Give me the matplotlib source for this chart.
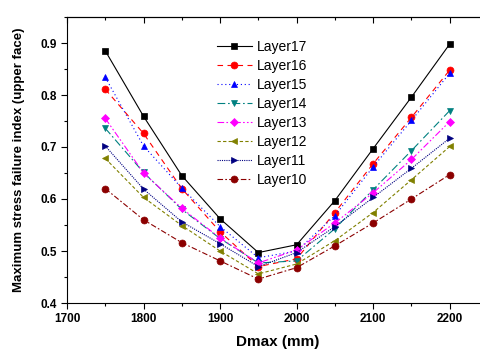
import matplotlib
matplotlib.use("Agg")
import matplotlib.pyplot as plt
from matplotlib.ticker import MultipleLocator

plt.rcParams['font.family'] = ['Liberation Sans', 'DejaVu Sans']

dmax = [1750, 1800, 1850, 1900, 1950, 2000, 2050, 2100, 2150, 2200]

layer17 = [0.885, 0.759, 0.645, 0.562, 0.497, 0.512, 0.597, 0.697, 0.796, 0.898]
layer16 = [0.811, 0.726, 0.620, 0.537, 0.470, 0.485, 0.574, 0.668, 0.757, 0.848]
layer15 = [0.834, 0.702, 0.621, 0.547, 0.487, 0.500, 0.568, 0.662, 0.751, 0.842]
layer14 = [0.736, 0.651, 0.580, 0.524, 0.477, 0.481, 0.543, 0.618, 0.693, 0.770]
layer13 = [0.755, 0.650, 0.582, 0.525, 0.477, 0.502, 0.554, 0.612, 0.676, 0.749]
layer12 = [0.678, 0.603, 0.549, 0.500, 0.456, 0.475, 0.520, 0.574, 0.637, 0.701]
layer11 = [0.702, 0.619, 0.556, 0.514, 0.470, 0.497, 0.547, 0.603, 0.659, 0.717]
layer10 = [0.620, 0.560, 0.516, 0.481, 0.446, 0.468, 0.510, 0.554, 0.600, 0.647]

series = [
    ("Layer17", layer17, 'black', '-', 's'),
    ("Layer16", layer16, '#FF0000', (0, (5, 4)), 'o'),
    ("Layer15", layer15, '#0000FF', (0, (1, 2.5)), '^'),
    ("Layer14", layer14, '#008080', (0, (7, 2.5, 1.5, 2.5)), 'v'),
    ("Layer13", layer13, '#FF00FF', (0, (6, 2, 1.5, 2, 1.5, 2)), 'D'),
    ("Layer12", layer12, '#808000', (0, (3, 2)), '<'),
    ("Layer11", layer11, '#000080', (0, (1, 1)), '>'),
    ("Layer10", layer10, '#8B0000', (0, (5, 2, 1.5, 2)), 'o'),
]

fig = plt.figure(figsize=(4.8, 3.53), dpi=100)
ax = fig.add_axes([67/480, 50/353, 421/480, 286/353])

for name, vals, col, ls, mk in series:
    ms = 4 if mk == 'D' else 5
    ax.plot(dmax, vals, color=col, linestyle=ls, linewidth=0.8,
            marker=mk, markersize=ms, markeredgewidth=0.5, label=name)

ax.set_xlim(1700, 2250)
ax.set_ylim(0.4, 0.95)
ax.xaxis.set_major_locator(MultipleLocator(100))
ax.xaxis.set_minor_locator(MultipleLocator(50))
ax.yaxis.set_major_locator(MultipleLocator(0.1))
ax.yaxis.set_minor_locator(MultipleLocator(0.05))
ax.tick_params(which='both', direction='out', width=0.8)
ax.tick_params(which='major', length=4, labelsize=8.5)
ax.tick_params(which='minor', length=2.5)
for lab in ax.get_xticklabels() + ax.get_yticklabels():
    lab.set_fontweight('bold')

top = ax.secondary_xaxis('top')
top.xaxis.set_major_locator(MultipleLocator(100))
top.xaxis.set_minor_locator(MultipleLocator(50))
top.tick_params(which='both', direction='in', labeltop=False, width=0.8)
top.tick_params(which='major', length=4)
top.tick_params(which='minor', length=2.5)

for sp in ax.spines.values():
    sp.set_linewidth(0.8)
ax.spines['right'].set_visible(False)

ax.set_xlabel("Dmax (mm)", fontsize=11, fontweight='bold', labelpad=7)
ax.set_ylabel("Maximum stress failure index (upper face)", fontsize=9.5,
              fontweight='bold', labelpad=11)

ax.legend(loc='upper left', bbox_to_anchor=(217/480, 1 - 40/353),
          bbox_transform=fig.transFigure, frameon=False, fontsize=10,
          borderpad=0, borderaxespad=0, handlelength=2.5,
          handletextpad=0.35, labelspacing=0.36)

fig.savefig("out.png", dpi=100)
